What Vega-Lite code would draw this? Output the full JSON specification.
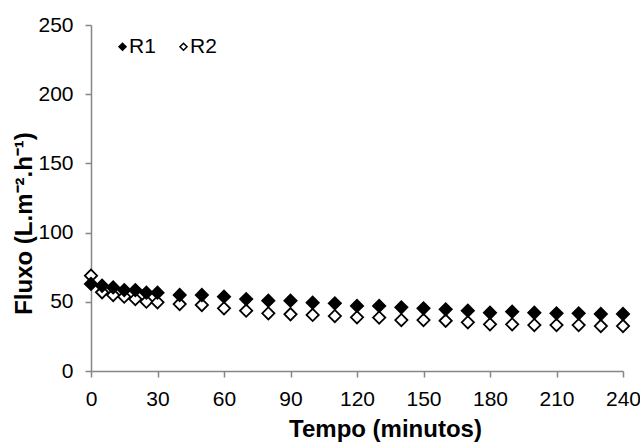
{
  "$schema": "https://vega.github.io/schema/vega-lite/v6.json",
  "width": 532,
  "height": 346,
  "autosize": "none",
  "padding": {"left": 91, "top": 25, "right": 17, "bottom": 72},
  "background": "white",
  "config": {
    "view": {"stroke": null},
    "font": "Liberation Sans",
    "axis": {
      "grid": false,
      "domainColor": "#868686",
      "domainWidth": 1.5,
      "tickColor": "#868686",
      "tickWidth": 1.5,
      "tickSize": 6,
      "labelFont": "Liberation Sans",
      "labelFontSize": 21,
      "labelColor": "black",
      "labelFlush": false,
      "titleFont": "Liberation Sans",
      "titleFontSize": 24,
      "titleFontWeight": "bold",
      "titleColor": "black"
    }
  },
  "data": {
    "values": [
      {"t": 0, "s": "R2", "v": 68.9}, {"t": 5, "s": "R2", "v": 56.9}, {"t": 10, "s": "R2", "v": 54.9},
      {"t": 15, "s": "R2", "v": 53.7}, {"t": 20, "s": "R2", "v": 52.0}, {"t": 25, "s": "R2", "v": 50.1},
      {"t": 30, "s": "R2", "v": 49.6}, {"t": 40, "s": "R2", "v": 48.4}, {"t": 50, "s": "R2", "v": 47.7},
      {"t": 60, "s": "R2", "v": 45.3}, {"t": 70, "s": "R2", "v": 43.6}, {"t": 80, "s": "R2", "v": 41.7},
      {"t": 90, "s": "R2", "v": 41.0}, {"t": 100, "s": "R2", "v": 40.5}, {"t": 110, "s": "R2", "v": 39.7},
      {"t": 120, "s": "R2", "v": 38.8}, {"t": 130, "s": "R2", "v": 38.6}, {"t": 140, "s": "R2", "v": 36.8},
      {"t": 150, "s": "R2", "v": 36.8}, {"t": 160, "s": "R2", "v": 36.3}, {"t": 170, "s": "R2", "v": 35.2},
      {"t": 180, "s": "R2", "v": 33.7}, {"t": 190, "s": "R2", "v": 33.7}, {"t": 200, "s": "R2", "v": 33.2},
      {"t": 210, "s": "R2", "v": 33.2}, {"t": 220, "s": "R2", "v": 33.2}, {"t": 230, "s": "R2", "v": 32.5},
      {"t": 240, "s": "R2", "v": 32.5},
      {"t": 0, "s": "R1", "v": 62.9}, {"t": 5, "s": "R1", "v": 61.6}, {"t": 10, "s": "R1", "v": 60.4},
      {"t": 15, "s": "R1", "v": 58.5}, {"t": 20, "s": "R1", "v": 58.5}, {"t": 25, "s": "R1", "v": 56.6},
      {"t": 30, "s": "R1", "v": 56.6}, {"t": 40, "s": "R1", "v": 54.9}, {"t": 50, "s": "R1", "v": 54.9},
      {"t": 60, "s": "R1", "v": 53.7}, {"t": 70, "s": "R1", "v": 52.0}, {"t": 80, "s": "R1", "v": 50.8},
      {"t": 90, "s": "R1", "v": 50.8}, {"t": 100, "s": "R1", "v": 49.4}, {"t": 110, "s": "R1", "v": 48.9},
      {"t": 120, "s": "R1", "v": 47.0}, {"t": 130, "s": "R1", "v": 47.0}, {"t": 140, "s": "R1", "v": 46.0},
      {"t": 150, "s": "R1", "v": 45.3}, {"t": 160, "s": "R1", "v": 44.6}, {"t": 170, "s": "R1", "v": 43.6},
      {"t": 180, "s": "R1", "v": 42.1}, {"t": 190, "s": "R1", "v": 42.9}, {"t": 200, "s": "R1", "v": 42.1},
      {"t": 210, "s": "R1", "v": 41.7}, {"t": 220, "s": "R1", "v": 41.7}, {"t": 230, "s": "R1", "v": 41.2},
      {"t": 240, "s": "R1", "v": 41.2}
    ]
  },
  "mark": {"type": "point", "shape": "diamond", "filled": false, "stroke": "black", "strokeWidth": 1.8, "size": 150, "opacity": 1},
  "encoding": {
    "x": {
      "field": "t", "type": "quantitative",
      "scale": {"domain": [0, 240], "nice": false},
      "axis": {"values": [0, 30, 60, 90, 120, 150, 180, 210, 240], "title": "Tempo (minutos)", "labelPadding": 11, "titleX": 294, "titleY": 65, "titleBaseline": "alphabetic"}
    },
    "y": {
      "field": "v", "type": "quantitative",
      "scale": {"domain": [0, 250], "nice": false},
      "axis": {"values": [0, 50, 100, 150, 200, 250], "title": "Fluxo (L.m⁻².h⁻¹)", "labelPadding": 12, "titleX": -67, "titleY": 198, "titleAlign": "center", "titleBaseline": "middle", "titleAngle": -90}
    },
    "fill": {
      "field": "s", "type": "nominal",
      "scale": {"domain": ["R1", "R2"], "range": ["black", "white"]},
      "legend": {
        "title": null, "orient": "none", "direction": "horizontal",
        "legendX": 21, "legendY": 11,
        "symbolType": "diamond", "symbolSize": 50, "symbolStrokeColor": "black", "symbolStrokeWidth": 1.5,
        "labelFontSize": 21, "labelFont": "Liberation Sans", "labelColor": "black",
        "columnPadding": 17, "labelOffset": -4
      }
    }
  }
}
